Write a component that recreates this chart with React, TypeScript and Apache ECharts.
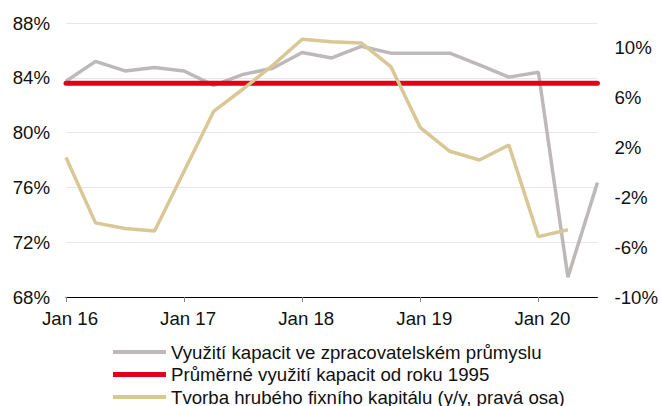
import React, { useEffect, useRef } from "react";
import * as echarts from "echarts";

const quarters = [
  "Q1 16", "Q2 16", "Q3 16", "Q4 16",
  "Q1 17", "Q2 17", "Q3 17", "Q4 17",
  "Q1 18", "Q2 18", "Q3 18", "Q4 18",
  "Q1 19", "Q2 19", "Q3 19", "Q4 19",
  "Q1 20", "Q2 20", "Q3 20",
];
const yearLabels: Record<string, string> = {
  "Q1 16": "Jan 16", "Q1 17": "Jan 17", "Q1 18": "Jan 18", "Q1 19": "Jan 19", "Q1 20": "Jan 20",
};
const capacityUtil = [83.75, 85.2, 84.5, 84.75, 84.5, 83.45, 84.25, 84.7, 85.85, 85.45, 86.3, 85.8, 85.8, 85.8, 84.95, 84.05, 84.4, 69.45, 76.35];
const averageSince1995 = quarters.map(() => 83.6);
const gfcf: (number | null)[] = [1.2, -4.05, -4.5, -4.7, 0.1, 4.9, 6.7, 8.6, 10.7, 10.5, 10.4, 8.5, 3.6, 1.7, 1.0, 2.2, -5.15, -4.6, null];

const seriesNames = [
  "Využití kapacit ve zpracovatelském průmyslu",
  "Průměrné využití kapacit od roku 1995",
  "Tvorba hrubého fixního kapitálu (y/y, pravá osa)",
];
const legendTops = [342.5, 365, 387.5];

export default function App() {
  const ref = useRef<HTMLDivElement>(null);
  useEffect(() => {
    document.body.style.margin = "0";
    if (!ref.current) return;
    const chart = echarts.init(ref.current, null, { renderer: "svg" });
    const font = "Liberation Sans, Arial, sans-serif";
    const fs = 18.67;
    chart.setOption({
      animation: false,
      textStyle: { fontFamily: font },
      grid: { left: 66, right: 61, top: 23, bottom: 109 },
      legend: seriesNames.map((n, i) => ({
        left: 113,
        top: legendTops[i],
        padding: 0,
        itemWidth: 53,
        itemHeight: i === 1 ? 5 : 4,
        icon: "rect",
        textStyle: { fontSize: fs, lineHeight: 19, color: "#111", fontFamily: font },
        data: [{ name: n }],
      })),
      xAxis: {
        type: "category",
        data: quarters,
        boundaryGap: false,
        axisLine: { onZero: false, lineStyle: { color: "#000", width: 1 } },
        axisTick: {
          show: true,
          length: 5,
          interval: (i: number) => i % 4 === 0,
          lineStyle: { color: "#888" },
        },
        axisLabel: {
          interval: (i: number) => i % 4 === 0,
          formatter: (v: string) => yearLabels[v] || "",
          fontSize: fs,
          color: "#111",
          margin: 12,
          padding: [0, 0, 0, 8],
        },
        splitLine: { show: false },
      },
      yAxis: [
        {
          type: "value",
          min: 68,
          max: 88,
          interval: 4,
          axisLine: { show: false },
          axisTick: { show: false },
          axisLabel: { formatter: "{value}%", fontSize: fs, color: "#111", margin: 16 },
          splitLine: { lineStyle: { color: "#e6e6e6", width: 1 } },
        },
        {
          type: "value",
          min: -10,
          max: 12,
          interval: 4,
          axisLine: { show: false },
          axisTick: { show: false },
          axisLabel: {
            formatter: (v: number) => (v === 12 ? "" : v + "%"),
            fontSize: fs,
            color: "#111",
            margin: 17,
          },
          splitLine: { show: false },
        },
      ],
      series: [
        {
          name: seriesNames[0],
          type: "line",
          data: capacityUtil,
          yAxisIndex: 0,
          symbol: "none",
          lineStyle: { color: "#BDB9B9", width: 3.5 },
          itemStyle: { color: "#BDB9B9" },
          z: 2,
        },
        {
          name: seriesNames[1],
          type: "line",
          data: averageSince1995,
          yAxisIndex: 0,
          symbol: "none",
          lineStyle: { color: "#E2001A", width: 5, cap: "round" },
          itemStyle: { color: "#E2001A" },
          z: 3,
        },
        {
          name: seriesNames[2],
          type: "line",
          data: gfcf,
          yAxisIndex: 1,
          symbol: "none",
          lineStyle: { color: "#D9C796", width: 3.5 },
          itemStyle: { color: "#D9C796" },
          z: 4,
        },
      ],
    });
    return () => chart.dispose();
  }, []);
  return <div ref={ref} style={{ width: 661, height: 406 }} />;
}
